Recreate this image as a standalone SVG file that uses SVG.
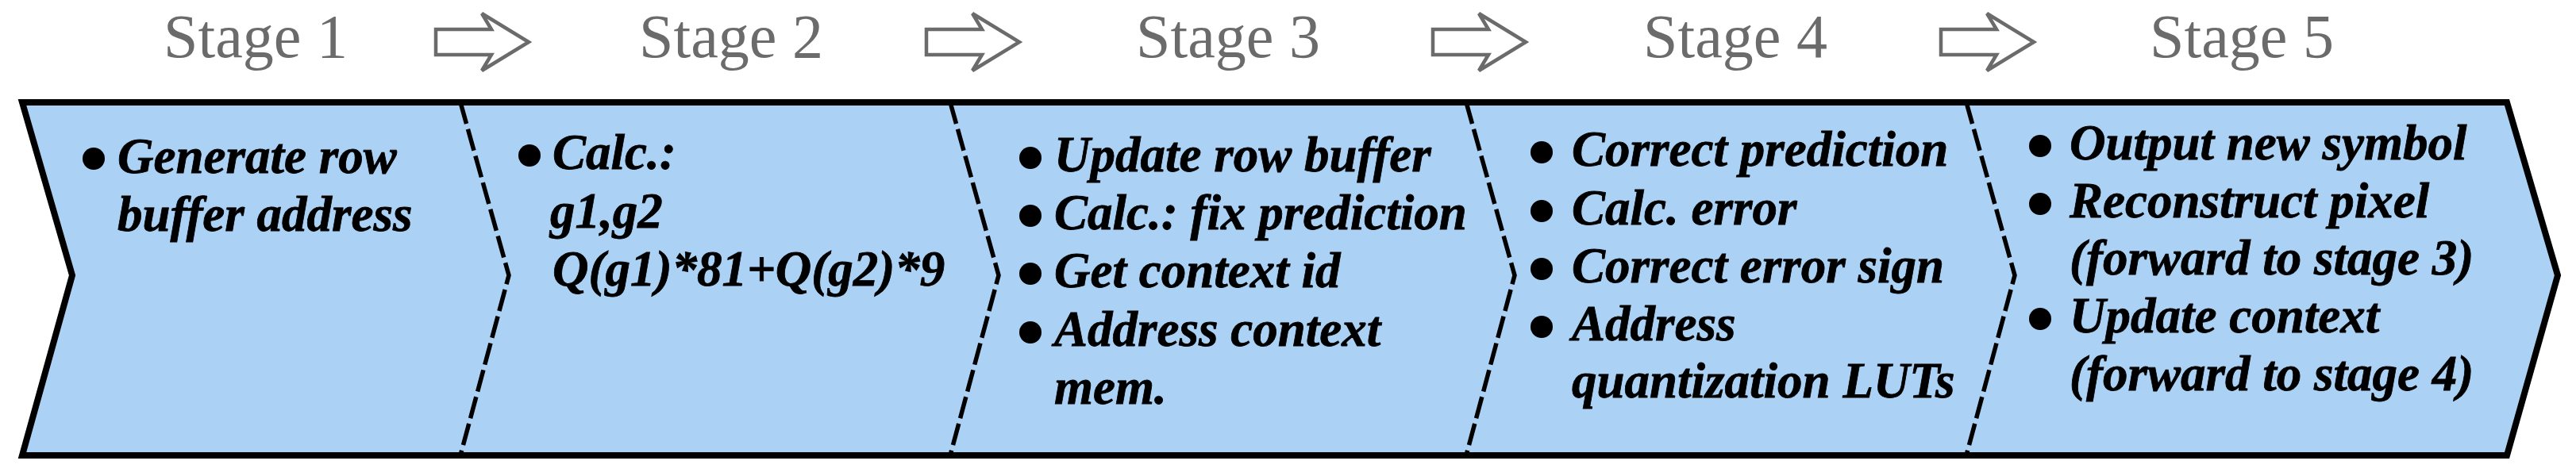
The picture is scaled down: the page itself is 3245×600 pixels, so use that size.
<svg xmlns="http://www.w3.org/2000/svg" width="3245" height="600" viewBox="0 0 3245 600">
<style>
.title{font-family:'Liberation Serif','Times New Roman',serif;font-size:78px;fill:#6b6b6b;text-anchor:middle}
.body{font-family:'Liberation Serif','Times New Roman',serif;font-size:63px;font-weight:bold;font-style:italic;fill:#000;stroke:#000;stroke-width:0.8}
.arrow{fill:#fff;stroke:#6b6b6b;stroke-width:4.5;stroke-linejoin:miter}
.div{fill:none;stroke:#000;stroke-width:5.5;stroke-dasharray:28 7}
</style>
<defs>
<path id="arr" d="M0,37 L70,37 L58,17 L117,53 L58,89 L70,69 L0,69 Z"/>
</defs>
<g id="band">
<polygon points="28,129 3158,129 3222,347 3158,574 28,574 91,347" fill="#abd1f4" stroke="#000" stroke-width="8" stroke-linejoin="miter"/>
</g>
<g id="connectors">
<use href="#arr" class="arrow" x="549"/>
<use href="#arr" class="arrow" x="1167"/>
<use href="#arr" class="arrow" x="1805"/>
<use href="#arr" class="arrow" x="2445"/>
<polyline class="div" points="580,129 641,347 580,574"/>
<polyline class="div" points="1197,129 1258,347 1197,574"/>
<polyline class="div" points="1847,129 1908,347 1847,574"/>
<polyline class="div" points="2477,129 2538,347 2477,574"/>
</g>
<g id="stage1">
<text class="title" x="322" y="72">Stage 1</text>
<circle cx="118" cy="200" r="14"/>
<text class="body" x="148" y="218">Generate row</text>
<text class="body" x="148" y="291">buffer address</text>
</g>
<g id="stage2">
<text class="title" x="921" y="72">Stage 2</text>
<circle cx="667" cy="196" r="14"/>
<text class="body" x="696" y="213">Calc.:</text>
<text class="body" x="693" y="287">g1,g2</text>
<text class="body" x="696" y="360">Q(g1)*81+Q(g2)*9</text>
</g>
<g id="stage3">
<text class="title" x="1547" y="72">Stage 3</text>
<circle cx="1298" cy="199" r="14"/>
<text class="body" x="1328" y="216">Update row buffer</text>
<circle cx="1298" cy="272" r="14"/>
<text class="body" x="1328" y="289">Calc.: fix prediction</text>
<circle cx="1298" cy="345" r="14"/>
<text class="body" x="1328" y="362">Get context id</text>
<circle cx="1298" cy="419" r="14"/>
<text class="body" x="1328" y="436">Address context</text>
<text class="body" x="1328" y="509">mem.</text>
</g>
<g id="stage4">
<text class="title" x="2186" y="72">Stage 4</text>
<circle cx="1942" cy="192" r="14"/>
<text class="body" x="1980" y="209">Correct prediction</text>
<circle cx="1942" cy="266" r="14"/>
<text class="body" x="1980" y="283">Calc. error</text>
<circle cx="1942" cy="339" r="14"/>
<text class="body" x="1980" y="356">Correct error sign</text>
<circle cx="1942" cy="412" r="14"/>
<text class="body" x="1980" y="429">Address</text>
<text class="body" x="1980" y="501">quantization LUTs</text>
</g>
<g id="stage5">
<text class="title" x="2824" y="72">Stage 5</text>
<circle cx="2570" cy="184" r="14"/>
<text class="body" x="2607" y="201">Output new symbol</text>
<circle cx="2570" cy="257" r="14"/>
<text class="body" x="2607" y="274">Reconstruct pixel</text>
<text class="body" x="2607" y="346">(forward to stage 3)</text>
<circle cx="2570" cy="402" r="14"/>
<text class="body" x="2607" y="419">Update context</text>
<text class="body" x="2607" y="492">(forward to stage 4)</text>
</g>
</svg>
